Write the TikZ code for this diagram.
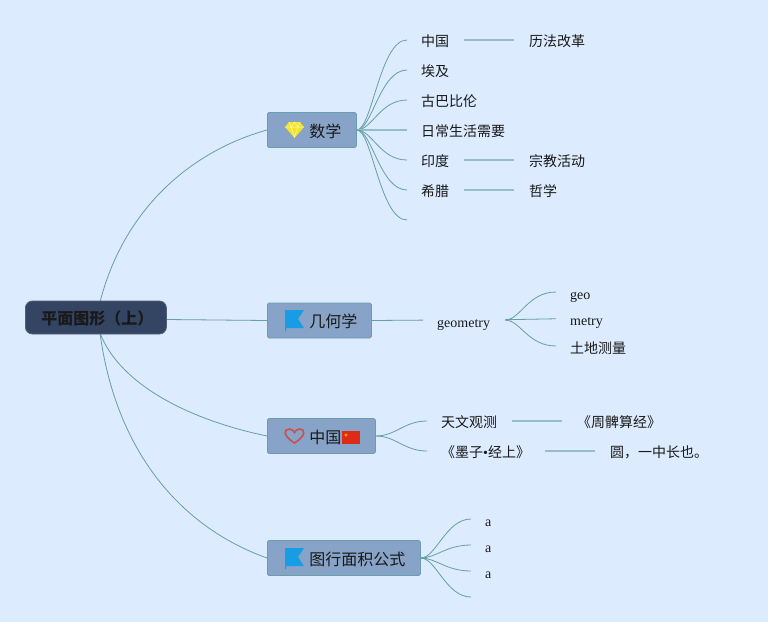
\documentclass[tikz,border=0pt]{standalone}
\usepackage{fontspec}
\usepackage{xcolor}
\usepackage{tikz}
\usetikzlibrary{shapes.geometric}
\setmainfont{Noto Sans CJK SC}
\newfontfamily\latinfont{Liberation Serif}
\definecolor{bgblue}{HTML}{DCEBFE}
\definecolor{boxblue}{HTML}{87A3C7}
\definecolor{boxedge}{HTML}{6A9CAB}
\definecolor{rootnavy}{HTML}{344563}
\definecolor{curveteal}{HTML}{659FA3}
\definecolor{stemteal}{HTML}{96BEC8}
\definecolor{flagblue}{HTML}{189DE4}
\definecolor{gemyellow}{HTML}{F2E32E}
\definecolor{heartred}{HTML}{C9504F}
\definecolor{cnred}{HTML}{DE2B17}

\begin{document}
\begin{tikzpicture}[x=1pt, y=-1pt,
rootnode/.style={rectangle, rounded corners=7pt, draw=rootnavy!85!white, fill=rootnavy, line width=0.8pt, inner sep=0pt, minimum height=33pt, anchor=west, text height=14.6pt, text depth=0pt, font=\fontsize{16}{16}\selectfont\bfseries, text=black!90},
branchnode/.style={rectangle, rounded corners=1.5pt, draw=boxedge, fill=boxblue, line width=0.8pt, inner sep=0pt, minimum height=35pt, anchor=west, text height=14pt, text depth=0pt, font=\fontsize{16}{16}\selectfont, text=black!90},
leafnode/.style={anchor=west, inner sep=0pt, text height=12.6pt, text depth=0pt, font=\fontsize{14}{14}\selectfont, text=black!90},
latinleaf/.style={leafnode, text height=14.6pt, font=\fontsize{14}{14}\latinfont},
curveline/.style={draw=curveteal, line width=0.8pt, shorten >=14pt},
stemline/.style={draw=stemteal, line width=1.1pt, shorten <=15pt, shorten >=15pt},
rootline/.style={draw=curveteal, line width=0.8pt},
flagicon/.pic={
  \fill[flagblue] (0,0) -- (19,0) -- (13,9) -- (19,18) -- (1,18) -- (1,21) -- (0,21) -- cycle;
}]

\path[use as bounding box, fill=bgblue] (0,0) rectangle (768,622);

\coordinate (rootup) at (100,302);
\coordinate (rootdown) at (100,333);
\coordinate (rootright) at (167,319.5);

% branches
\node[branchnode] (math) at (267,130) {\hspace*{42pt}数学\hspace*{15pt}};
\node[branchnode] (geo) at (267,320.5) {\hspace*{42pt}几何学\hspace*{14pt}};
\node[branchnode] (china) at (267,436) {\hspace*{42pt}中国\hspace*{34pt}};
\node[branchnode] (area) at (267,558) {\hspace*{42pt}图行面积公式\hspace*{15pt}};

\draw[rootline] (rootup) .. controls (125,205) and (195,150) .. (math.west);
\draw[rootline] (rootdown) .. controls (120,385) and (190,420) .. (china.west);
\draw[rootline] (rootdown) .. controls (115,445) and (175,525) .. (area.west);

\node[rootnode] (root) at (25,317.5) {\hspace*{16pt}平面图形（上）\hspace*{13pt}};
\draw[rootline] (rootright) -- (geo.west);

% icons
\fill[gemyellow] (289,122) -- (300,122) -- (304,127) -- (294.5,138) -- (285,127) -- cycle;
\draw[yellow!35!white, line width=0.5pt] (285,127) -- (304,127) (289,122) -- (291,127) -- (294.5,137) -- (298,127) -- (300,122) (291,127) -- (294.5,122) -- (298,127);
\pic at (285,310) {flagicon};
\pic at (285,548) {flagicon};
\draw[heartred, line width=1.6pt] (294.5,443) .. controls (282,435) and (284,429) .. (289.5,429) .. controls (292,429) and (294,431) .. (294.5,432.5) .. controls (295,431) and (297,429) .. (299.5,429) .. controls (305,429) and (307,435) .. (294.5,443) -- cycle;
\fill[cnred] (342,431) rectangle (360,444);
\node[star, star points=5, star point ratio=2.4, fill=orange!70!yellow, inner sep=0pt, minimum size=4pt] (cnstar) at (346,435) {};

% math leaves
\node[leafnode] (m1) at (421,40) {中国};
\node[leafnode] (m2) at (421,70) {埃及};
\node[leafnode] (m3) at (421,100) {古巴比伦};
\node[leafnode] (m4) at (421,130) {日常生活需要};
\node[leafnode] (m5) at (421,160) {印度};
\node[leafnode] (m6) at (421,190) {希腊};
\coordinate (m7) at (421,220);
\node[leafnode] (m1a) at (529,40) {历法改革};
\node[leafnode] (m5a) at (529,160) {宗教活动};
\node[leafnode] (m6a) at (529,190) {哲学};

\draw[curveline] (math.east) .. controls (372,130) and (380,40) .. (m1.west);
\draw[curveline] (math.east) .. controls (372,130) and (380,70) .. (m2.west);
\draw[curveline] (math.east) .. controls (372,130) and (380,100) .. (m3.west);
\draw[stemline, shorten <=0pt, shorten >=14pt] (math.east) -- (m4.west);
\draw[curveline] (math.east) .. controls (372,130) and (380,160) .. (m5.west);
\draw[curveline] (math.east) .. controls (372,130) and (380,190) .. (m6.west);
\draw[curveline] (math.east) .. controls (372,130) and (380,220) .. (m7);
\draw[stemline] (m1) -- (m1a);
\draw[stemline] (m5) -- (m5a);
\draw[stemline] (m6) -- (m6a);

% geometry leaves
\node[latinleaf] (g0) at (437,320) {geometry};
\node[latinleaf] (g1) at (570,292) {geo};
\node[latinleaf] (g2) at (570,318.5) {metry};
\node[leafnode, text height=14.6pt] (g3) at (570,346) {土地测量};
\draw[rootline, shorten >=14pt] (geo.east) -- (g0.west);
\draw[curveline, shorten <=15pt] (g0.east) .. controls (520,320) and (528,292) .. (g1.west);
\draw[curveline, shorten <=15pt] (g0.east) -- (g2.west);
\draw[curveline, shorten <=15pt] (g0.east) .. controls (520,320) and (528,346) .. (g3.west);

% china leaves
\node[leafnode] (c1) at (441,421) {天文观测};
\node[leafnode] (c2) at (441,451) {《墨子{\latinfont •}经上》};
\node[leafnode] (c1a) at (577,421) {《周髀算经》};
\node[leafnode] (c2a) at (610,451) {圆，一中长也。};
\draw[curveline] (china.east) .. controls (396,436) and (404,421) .. (c1.west);
\draw[curveline] (china.east) .. controls (396,436) and (404,451) .. (c2.west);
\draw[stemline] (c1) -- (c1a);
\draw[stemline] (c2) -- (c2a);

% area leaves
\node[latinleaf] (a1) at (485,519) {a};
\node[latinleaf] (a2) at (485,545) {a};
\node[latinleaf] (a3) at (485,571) {a};
\coordinate (a4) at (485,597);
\draw[curveline] (area.east) .. controls (436,558) and (446,519) .. (a1.west);
\draw[curveline] (area.east) .. controls (436,558) and (446,545) .. (a2.west);
\draw[curveline] (area.east) .. controls (436,558) and (446,571) .. (a3.west);
\draw[curveline] (area.east) .. controls (436,558) and (446,597) .. (a4);

\end{tikzpicture}
\end{document}
